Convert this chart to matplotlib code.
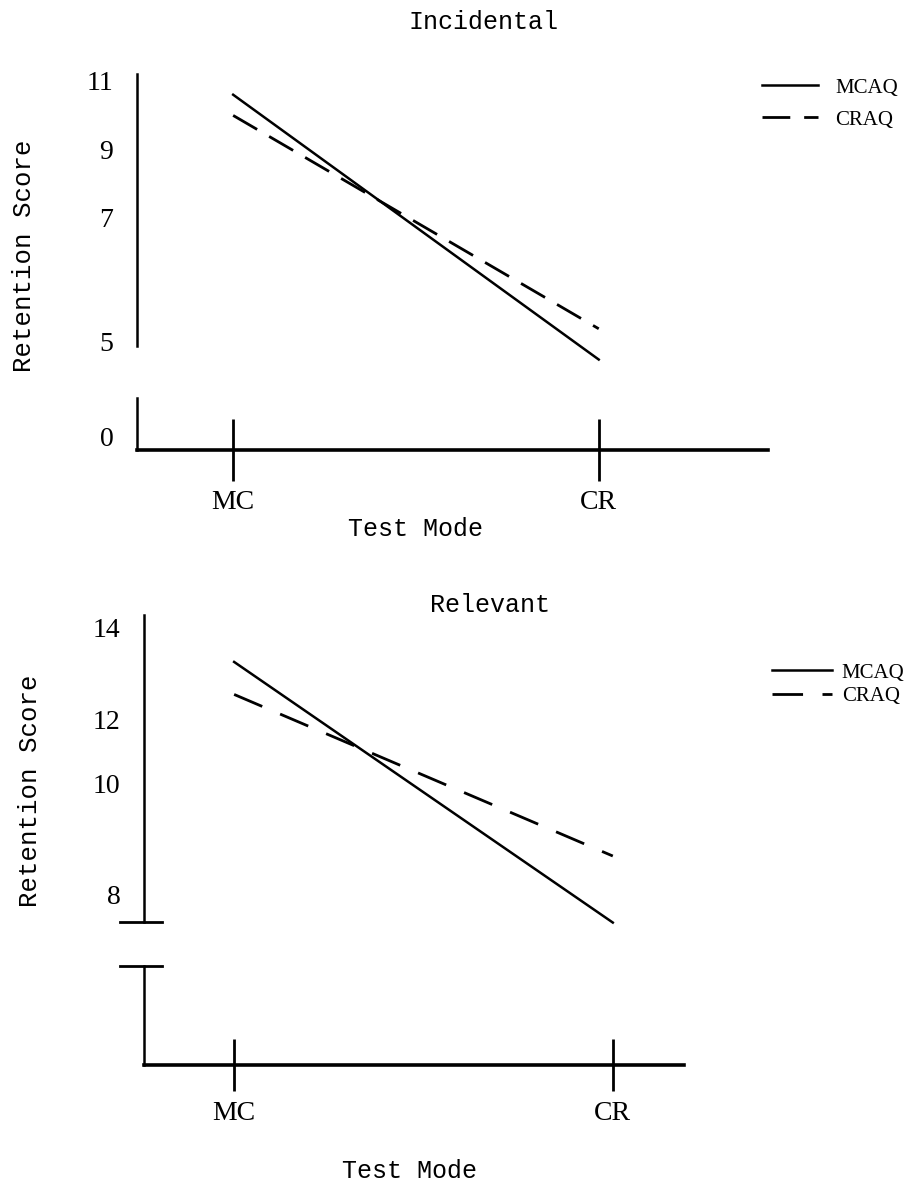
import numpy as np
import matplotlib
matplotlib.use("Agg")
from matplotlib import pyplot as plt

W, H = 909, 1189

test_modes = ["MC", "CR"]
series = ["MCAQ", "CRAQ"]

# Incidental
inc_mcaq = [10.6, 4.7]
inc_craq = [10.0, 5.2]
inc_ticks = [5, 7, 9, 11]

# Relevant
rel_mcaq = [13.25, 7.5]
rel_craq = [12.55, 8.7]
rel_ticks = [8, 10, 12, 14]

# the original axes are hand drawn with uneven tick spacing, so the y scale
# is piecewise linear through the tick marks (values, pixel rows from top)
inc_knots = ([3, 5, 7, 9, 11, 13], [464, 341, 218, 150, 81, 12])
rel_knots = ([6, 8, 10, 12, 14, 16], [1006, 895, 784, 720, 627, 534])

MONO = "Liberation Mono"
SERIF = "Liberation Serif"


def px_box(l, t, r, b):
    return [l / W, 1 - b / H, (r - l) / W, (b - t) / H]


def piecewise(knots):
    vals = np.array(knots[0], float)
    pos = -np.array(knots[1], float)
    fwd = lambda v: np.interp(v, vals, pos)
    inv = lambda p: np.interp(p, pos, vals)
    return fwd, inv


def panel(fig, title, title_xy, mcaq, craq, ticks, knots, upper, lower,
          xlim, ylim, zero_label, ylabel_xy, xlabel_xy, legend_xy,
          dash, tick_len, breaks, labelspacing, handlelength, textpad):
    ax = fig.add_axes(px_box(*upper))
    lo = fig.add_axes(px_box(*lower))

    ax.set_yscale("function", functions=piecewise(knots))
    ax.set_xlim(xlim)
    ax.set_ylim(ylim)
    x = np.arange(len(test_modes))
    ax.plot(x, mcaq, color="black", lw=1.8, label=series[0], clip_on=False)
    ax.plot(x, craq, color="black", lw=2.0, dashes=dash, label=series[1],
            clip_on=False)

    for s in ["top", "right", "bottom"]:
        ax.spines[s].set_visible(False)
    ax.spines["left"].set_linewidth(1.8)
    ax.set_xticks([])
    ax.set_yticks(ticks, [str(t) for t in ticks])
    ax.tick_params(axis="y", length=0, pad=17, labelsize=20)
    for lab in ax.get_yticklabels():
        lab.set_fontfamily(SERIF)
    ax.yaxis.set_minor_locator(plt.NullLocator())
    ax.patch.set_alpha(0)

    lo.set_xlim(xlim)
    lo.set_ylim(-1 / 3, 1)
    for s in ["top", "right"]:
        lo.spines[s].set_visible(False)
    lo.spines["left"].set_linewidth(1.8)
    lo.spines["bottom"].set_linewidth(2.6)
    lo.set_xticks(x, test_modes)
    lo.tick_params(axis="x", direction="inout", length=tick_len, width=2,
                   pad=7, labelsize=20)
    for lab in lo.get_xticklabels():
        lab.set_fontfamily(SERIF)
    if zero_label:
        lo.set_yticks([0], ["0"])
        lo.tick_params(axis="y", length=0, pad=17, labelsize=20)
        for lab in lo.get_yticklabels():
            lab.set_fontfamily(SERIF)
    else:
        lo.set_yticks([])
    lo.patch.set_alpha(0)

    if breaks:
        a, b = breaks
        ax.plot([-a, b], [0, 0], color="black", lw=2, transform=ax.transAxes,
                clip_on=False)
        lo.plot([-a, b], [1, 1], color="black", lw=2, transform=lo.transAxes,
                clip_on=False)

    fig.text(title_xy[0] / W, 1 - title_xy[1] / H, title, ha="center",
             va="center", family=MONO, fontsize=18)
    ax.set_ylabel("Retention Score", family=MONO, fontsize=18.5)
    ax.yaxis.set_label_coords(ylabel_xy[0] / W, 1 - ylabel_xy[1] / H,
                              transform=fig.transFigure)
    lo.set_xlabel("Test Mode", family=MONO, fontsize=18)
    lo.xaxis.set_label_coords(xlabel_xy[0] / W, 1 - xlabel_xy[1] / H,
                              transform=fig.transFigure)

    h, l = ax.get_legend_handles_labels()
    fig.legend(h, l, loc="upper left",
               bbox_to_anchor=(legend_xy[0] / W, 1 - legend_xy[1] / H),
               frameon=False, borderpad=0, borderaxespad=0,
               handlelength=handlelength, handletextpad=textpad,
               labelspacing=labelspacing, prop={"family": SERIF, "size": 15})


fig = plt.figure(figsize=(W / 100, H / 100), dpi=100)

panel(fig, "Incidental", (484, 22), inc_mcaq, inc_craq, inc_ticks, inc_knots,
      upper=(137, 74, 768, 346), lower=(137, 398, 768, 450),
      xlim=(-0.263, 1.463), ylim=(4.92, 11.2), zero_label=True,
      ylabel_xy=(36, 256), xlabel_xy=(415, 517), legend_xy=(762, 78),
      dash=(10, 5), tick_len=44, breaks=None, labelspacing=0.6,
      handlelength=2.7, textpad=0.8)

panel(fig, "Relevant", (490, 605), rel_mcaq, rel_craq, rel_ticks, rel_knots,
      upper=(144, 615, 684, 922), lower=(144, 966, 684, 1065),
      xlim=(-0.238, 1.188), ylim=(7.51, 14.26), zero_label=False,
      ylabel_xy=(42, 791), xlabel_xy=(409, 1159), legend_xy=(772, 663),
      dash=(11, 7), tick_len=38, breaks=(0.044, 0.033), labelspacing=0.2,
      handlelength=2.9, textpad=0.45)

fig.savefig("out.png", dpi=100)
